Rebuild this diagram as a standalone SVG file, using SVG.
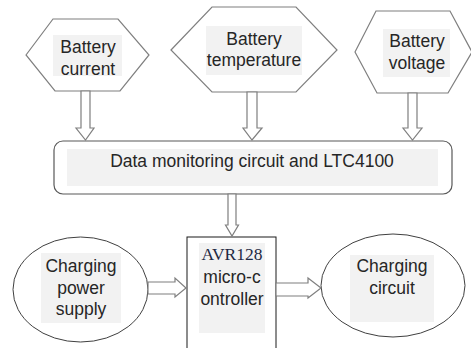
<svg xmlns="http://www.w3.org/2000/svg" width="471" height="348" viewBox="0 0 471 348">
<style>
.hex{fill:#fff;stroke:#7f7f7f;stroke-width:1.2}
.bg{fill:#f2f2f2}
.t{font-family:"Liberation Sans",Arial,sans-serif;font-size:17.5px;fill:#262626;text-anchor:middle}
.ts{font-family:"Liberation Serif","Times New Roman",serif;font-size:17.5px;fill:#1f2a44;text-anchor:middle}
.arr{fill:#fff;stroke:#7f7f7f;stroke-width:1.2;stroke-linejoin:miter}
.ell{fill:#fff;stroke:#404040;stroke-width:1}
</style>
<rect width="471" height="348" fill="#fff"/>
<g id="battery-current">
<polygon class="hex" points="26,55 53,19 118,19 149,55 120,91 55,91"/>
<rect class="bg" x="53" y="35" width="69" height="41"/>
<text class="t" x="88" y="53">Battery</text>
<text class="t" x="88" y="75">current</text>
</g>
<g id="battery-temperature">
<polygon class="hex" points="171,50 212,7 296,7 337,50 296,92 212,92"/>
<rect class="bg" x="206" y="26" width="96" height="49"/>
<text class="t" x="254" y="45">Battery</text>
<text class="t" x="254" y="66">temperature</text>
</g>
<g id="battery-voltage">
<polygon class="hex" points="355,52 376,11 450,11 472,52 448,93 377,93"/>
<rect class="bg" x="383" y="29" width="67" height="48"/>
<text class="t" x="417" y="47">Battery</text>
<text class="t" x="417" y="69">voltage</text>
</g>
<g id="data-monitoring">
<rect x="54" y="141" width="398" height="53" rx="9" fill="#fff" stroke="#595959" stroke-width="1.2"/>
<rect class="bg" x="67" y="149" width="371" height="37"/>
<text class="t" x="252" y="167">Data monitoring circuit and LTC4100</text>
</g>
<g id="avr128">
<rect x="187" y="237" width="89" height="120" fill="#fff" stroke="#1a1a1a" stroke-width="1"/>
<rect class="bg" x="199" y="243" width="66" height="90"/>
<text class="ts" x="232" y="260">AVR128</text>
<text class="t" x="232" y="283">micro-c</text>
<text class="t" x="232" y="305">ontroller</text>
</g>
<g id="charging-power-supply">
<ellipse class="ell" cx="80.5" cy="289.5" rx="67.5" ry="52.5"/>
<rect class="bg" x="41" y="253" width="80" height="70"/>
<text class="t" x="81" y="272">Charging</text>
<text class="t" x="81" y="294">power</text>
<text class="t" x="81" y="315">supply</text>
</g>
<g id="charging-circuit">
<ellipse class="ell" cx="393" cy="285.5" rx="72" ry="51.5"/>
<rect class="bg" x="350" y="255" width="84" height="67"/>
<text class="t" x="392" y="272">Charging</text>
<text class="t" x="392" y="294">circuit</text>
</g>
<g id="connectors">
<polygon class="arr" points="81,91 90,91 90,128 94,128 85.5,140 76,128 81,128"/>
<polygon class="arr" points="247,92 257,92 257,128 262,128 252,140 243,128 247,128"/>
<polygon class="arr" points="408,93 417,93 417,128 422,128 412.5,140 403,128 408,128"/>
<polygon class="arr" points="228,194 236,194 236,225 238.5,225 232,236 225.5,225 228,225"/>
<polygon class="arr" points="148,282 175,282 175,278 186,288 175,297 175,294 148,294"/>
<polygon class="arr" points="276,283 308,283 308,278 321,288 308,298 308,296 276,296"/>
</g>
</svg>
